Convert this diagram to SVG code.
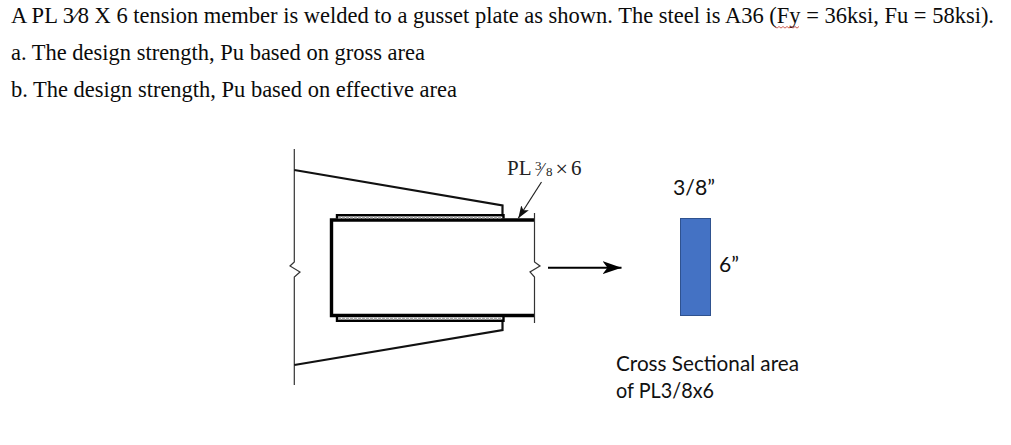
<svg xmlns="http://www.w3.org/2000/svg" width="1011" height="445" viewBox="0 0 1011 445">
<defs>
<marker id="tip" markerUnits="userSpaceOnUse" markerWidth="20" markerHeight="14" refX="19" refY="7" orient="auto"><path d="M0,0.5 L19,7 L0,13.5 L5,7 Z" fill="#000"/></marker>
<marker id="tip2" markerUnits="userSpaceOnUse" markerWidth="13" markerHeight="10" refX="12.5" refY="5" orient="auto"><path d="M0,0.5 L12.5,5 L0,9.5 L3,5 Z" fill="#111"/></marker>
</defs>
<style>
.q{font-family:"Liberation Serif","Times New Roman",serif;font-size:22.4px;fill:#0b0b0b}
.d{font-family:"Liberation Serif","Times New Roman",serif;font-size:21px;fill:#222}
.s{font-family:Lato,"Open Sans",sans-serif;font-size:22px;fill:#111}
.thin{fill:none;stroke:#333;stroke-width:1.2}
.mid{fill:none;stroke:#111;stroke-width:2.2}
.heavy{fill:none;stroke:#000;stroke-width:3.4}
.weld{fill:none;stroke:#000;stroke-width:2.4}
.hatch{fill:none;stroke:#aaa;stroke-width:2;stroke-dasharray:3 1}
</style>
<rect width="1011" height="445" fill="#fff"/>
<g id="question">
<text class="q" x="11" y="23" textLength="983" lengthAdjust="spacingAndGlyphs">A PL 3⁄8 X 6 tension member is welded to a gusset plate as shown. The steel is A36 (Fy = 36ksi, Fu = 58ksi).</text>
<text class="q" x="11" y="60" textLength="414" lengthAdjust="spacingAndGlyphs">a. The design strength, Pu based on gross area</text>
<text class="q" x="11" y="96.5" textLength="446" lengthAdjust="spacingAndGlyphs">b. The design strength, Pu based on effective area</text>
<path d="M775,26.5 l2,1.6 l2,-1.6 l2,1.6 l2,-1.6 l2,1.6 l2,-1.6 l2,1.6 l2,-1.6 l2,1.6 l2,-1.6 l2,1.6 l2,-1.6" fill="none" stroke="#c0392b" stroke-width="0.8"/>
</g>
<g id="gusset">
<path class="thin" d="M294.3,149 V262 L290,266 L300,272 L294.3,277 V385"/>
<path class="mid" d="M294.3,170 L502.5,205.5 V215"/>
<path class="mid" d="M502.5,321 V330 L294.3,365"/>
</g>
<g id="plate">
<path class="heavy" d="M534,220 H331.5 V315.5 H534"/>
<path class="thin" d="M534.5,213 V262 L540,266 L530,272 L534.5,277 V323"/>
</g>
<g id="welds">
<path class="weld" d="M337,218.5 V215.2 H503.5 V218.5"/>
<path class="hatch" d="M338,217.6 H502"/>
<path class="weld" d="M337,317 V320.8 H503.5 V317"/>
<path class="hatch" d="M338,318.4 H502"/>
</g>
<g id="connectors">
<path d="M541.5,182 L518.3,218.3" fill="none" stroke="#222" stroke-width="1.2" marker-end="url(#tip2)"/>
<path d="M548,267.7 H621.5" fill="none" stroke="#000" stroke-width="2" marker-end="url(#tip)"/>
</g>
<g id="plate-label">
<text class="d" x="507" y="175">PL</text>
<text class="d" x="535" y="170" style="font-size:13px">3</text>
<text class="d" x="540" y="176" style="font-size:18px">⁄</text>
<text class="d" x="546" y="176" style="font-size:13px">8</text>
<text class="d" x="555.5" y="176" style="font-size:22px">×</text>
<text class="d" x="571" y="175">6</text>
</g>
<g id="section">
<rect x="680.5" y="218.5" width="30" height="97" fill="#4472c4" stroke="#2f528f" stroke-width="1"/>
<text class="s" x="673" y="195" textLength="42" lengthAdjust="spacingAndGlyphs">3/8”</text>
<text class="s" x="719" y="272" textLength="20" lengthAdjust="spacingAndGlyphs">6”</text>
<text class="s" x="616" y="371" textLength="183" lengthAdjust="spacingAndGlyphs">Cross Sectional area</text>
<text class="s" x="616" y="398" textLength="98" lengthAdjust="spacingAndGlyphs">of PL3/8x6</text>
</g>
</svg>
